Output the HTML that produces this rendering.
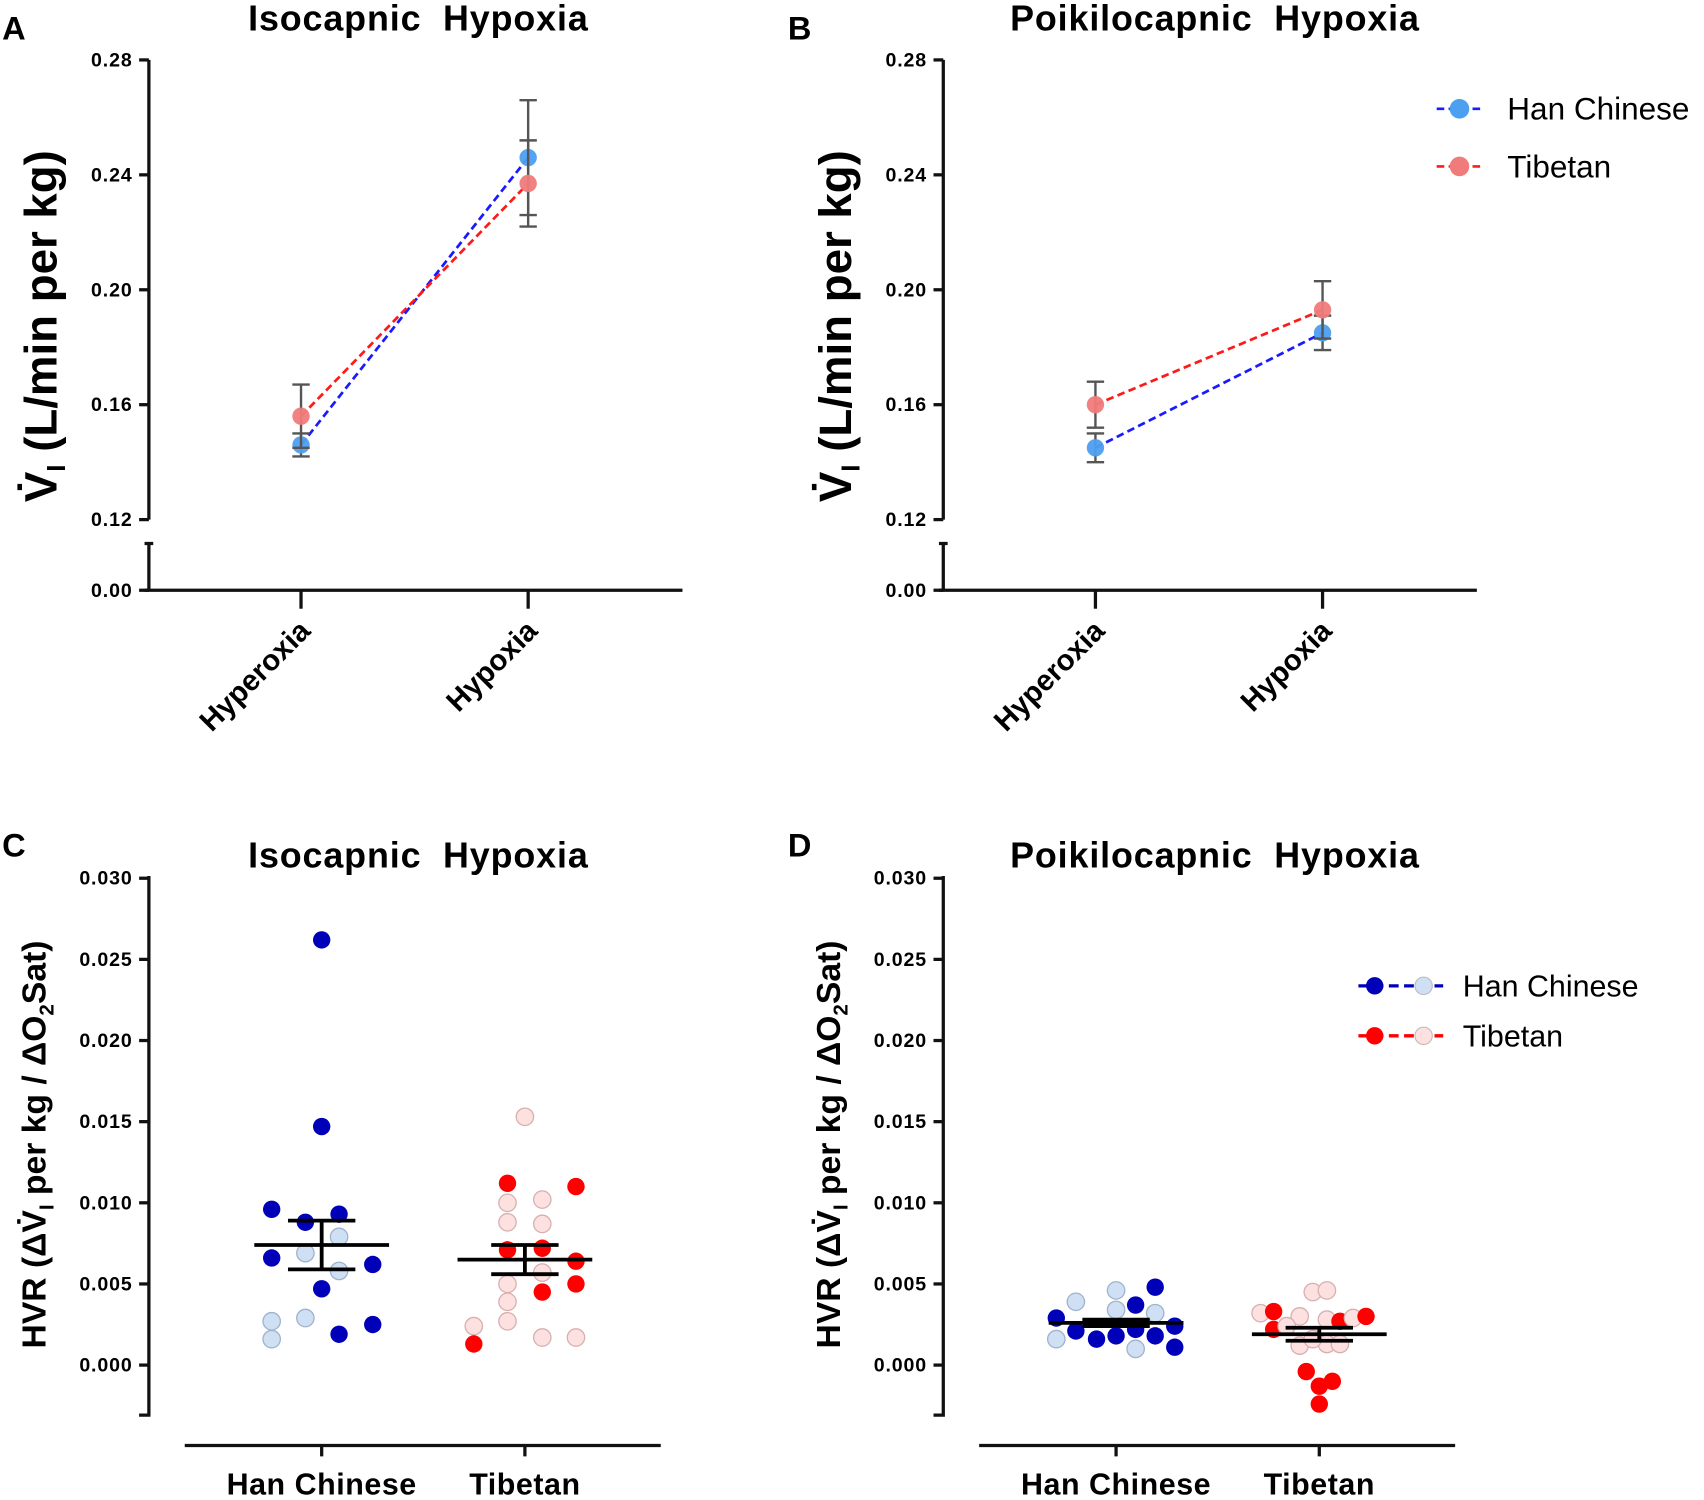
<!DOCTYPE html>
<html><head><meta charset="utf-8"><style>
html,body{margin:0;padding:0;background:#fff}
svg{display:block;font-family:"Liberation Sans",Arial,sans-serif}
</style></head><body>
<svg id="fig" width="1704" height="1500" viewBox="0 0 1568 1380" xmlns="http://www.w3.org/2000/svg">
<g font-weight="bold" font-size="30">
<text x="2" y="36">A</text>
<text x="725" y="36">B</text>
<text x="2" y="788">C</text>
<text x="725" y="788">D</text>
</g>
<g font-weight="bold" font-size="33" text-anchor="middle" letter-spacing="0.8">
<text x="385" y="28">Isocapnic&#160;&#160;Hypoxia</text>
<text x="1118" y="28">Poikilocapnic&#160;&#160;Hypoxia</text>
<text x="385" y="798">Isocapnic&#160;&#160;Hypoxia</text>
<text x="1118" y="798">Poikilocapnic&#160;&#160;Hypoxia</text>
</g>
<g id="layer"></g>
</svg>
<script>
// ---- Data: panels A/B (means and SEM) ----
const conditions = ["Hyperoxia", "Hypoxia"];
const topTicks = [0.12, 0.16, 0.20, 0.24, 0.28];
const isoHanMean = [0.146, 0.246];
const isoHanSem = [0.004, 0.020];
const isoTibMean = [0.156, 0.237];
const isoTibSem = [0.011, 0.015];
const poiHanMean = [0.145, 0.185];
const poiHanSem = [0.005, 0.006];
const poiTibMean = [0.160, 0.193];
const poiTibSem = [0.008, 0.010];
// ---- Data: panels C/D (individual HVR values) ----
const groups = ["Han Chinese", "Tibetan"];
const hvrTicks = [0.000, 0.005, 0.010, 0.015, 0.020, 0.025, 0.030];
const hvrTickLabels = ["0.000", "0.005", "0.010", "0.015", "0.020", "0.025", "0.030"];
const isoHanVals = [0.0262, 0.0147, 0.0096, 0.0088, 0.0093, 0.0079, 0.0069, 0.0066, 0.0062, 0.0058, 0.0047, 0.0027, 0.0029, 0.0019, 0.0025, 0.0016];
const isoHanDark = [1, 1, 1, 1, 1, 0, 0, 1, 1, 0, 1, 0, 0, 1, 1, 0];
const isoHanJit = [0, 0, -46, -15, 16, 16, -15, -46, 47, 16, 0, -46, -15, 16, 47, -46];
const isoTibVals = [0.0153, 0.0112, 0.0110, 0.0100, 0.0102, 0.0088, 0.0087, 0.0071, 0.0072, 0.0064, 0.0057, 0.0050, 0.0050, 0.0045, 0.0039, 0.0027, 0.0024, 0.0013, 0.0017, 0.0017];
const isoTibDark = [0, 1, 1, 0, 0, 0, 0, 1, 1, 1, 0, 0, 1, 1, 0, 0, 0, 1, 0, 0];
const isoTibJit = [0, -16, 47, -16, 16, -16, 16, -16, 16, 47, 16, -16, 47, 16, -16, -16, -47, -47, 16, 47];
const isoStats = {hanMean: 0.0074, hanSem: 0.0015, tibMean: 0.0065, tibSem: 0.0009};
const poiHanVals = [0.0029, 0.0039, 0.0046, 0.0034, 0.0037, 0.0048, 0.0032, 0.0024, 0.0021, 0.0016, 0.0018, 0.0022, 0.0018, 0.0016, 0.0010, 0.0011];
const poiHanDark = [1, 0, 0, 0, 1, 1, 0, 1, 1, 1, 1, 1, 1, 0, 0, 1];
const poiHanJit = [-55, -37, 0, 0, 18, 36, 36, 54, -37, -18, 0, 18, 36, -55, 18, 54];
const poiTibVals = [0.0045, 0.0046, 0.0032, 0.0033, 0.0022, 0.0030, 0.0028, 0.0027, 0.0029, 0.0030, 0.0024, 0.0012, 0.0013, 0.0013, 0.0016, -0.0004, -0.0013, -0.0010, -0.0024];
const poiTibDark = [0, 0, 0, 1, 1, 0, 0, 1, 0, 1, 0, 0, 0, 0, 0, 1, 1, 1, 1];
const poiTibJit = [-6, 7, -54, -42, -42, -18, 7, 19, 31, 43, -30, -18, 7, 19, -6, -12, 0, 12, 0];
const poiStats = {hanMean: 0.0026, hanSem: 0.0002, tibMean: 0.0019, tibSem: 0.0004};

const NS = "http://www.w3.org/2000/svg";
const layer = document.getElementById("layer");
function mk(tag, attrs, parent) {
  const e = document.createElementNS(NS, tag);
  for (const k in attrs) e.setAttribute(k, attrs[k]);
  (parent || layer).appendChild(e);
  return e;
}
function txt(x, y, s, attrs, parent) {
  const e = mk("text", Object.assign({x: x, y: y}, attrs), parent);
  e.textContent = s;
  return e;
}
const TICKFONT = {"text-anchor": "end", "font-size": 18, "font-weight": "bold", "letter-spacing": "0.8"};

// ---------- Panels A/B ----------
function linePanel(ox, han, hanS, tib, tibS, tag) {
  const ax = ox + 137;
  const yTop = v => 478 - (v - 0.12) / 0.16 * 423;
  const xCat = i => ox + 277 + i * 209;
  const g = mk("g", {});
  
  
  const ya = mk("path", {d: `M${ax} 55 V478 M${ax} 500 V543 M${ax-4} 500 H${ax+4}`, stroke: "#111", "stroke-width": 3, fill: "none"}, g);
  
  
  const xa = mk("path", {d: `M${ax-4} 543 H${ox+628}`, stroke: "#111", "stroke-width": 3}, g);
  
  
  topTicks.forEach(t => {
    const y = yTop(t);
    mk("line", {x1: ax - 9, x2: ax, y1: y, y2: y, stroke: "#111", "stroke-width": 3}, g);
    const l = txt(ax - 15, y + 6, t.toFixed(2), TICKFONT, g);
    
    
  });
  mk("line", {x1: ax - 9, x2: ax, y1: 543, y2: 543, stroke: "#111", "stroke-width": 3}, g);
  const z = txt(ax - 15, 549, "0.00", TICKFONT, g);
  
  
  conditions.forEach((c, i) => {
    const x = xCat(i);
    mk("line", {x1: x, x2: x, y1: 543, y2: 560, stroke: "#111", "stroke-width": 3}, g);
    const l = txt(0, 0, c, {"text-anchor": "end", "font-size": 27, "font-weight": "bold", transform: `translate(${x + 10},${582}) rotate(-45)`}, g);
    
    
  });
  const yt = txt(0, 0, "", {"text-anchor": "middle", "font-size": 42, "font-weight": "bold", transform: `translate(${ox + 52},${300}) rotate(-90)`}, g);
  
  
  yt.innerHTML = 'V\u0307<tspan font-size="24" dy="8">I</tspan><tspan dy="-8"> (L/min per kg)</tspan>';
  [[han, hanS, "#1a1aff", "#4d9ff0", "han"], [tib, tibS, "#ff1a1a", "#f07b7b", "tibetan"]].forEach(([m, s, lc, fc, nm]) => {
    const sg = mk("g", {}, g);
    
    
    const ln = mk("line", {x1: xCat(0), y1: yTop(m[0]), x2: xCat(1), y2: yTop(m[1]), stroke: lc, "stroke-width": 2.5, "stroke-dasharray": "7 4"}, sg);
    
    
    m.forEach((v, i) => {
      const x = xCat(i), y1 = yTop(v + s[i]), y2 = yTop(v - s[i]);
      const eb = mk("path", {d: `M${x} ${y1} V${y2} M${x-8} ${y1} H${x+8} M${x-8} ${y2} H${x+8}`, stroke: "#555", "stroke-width": 2.2, fill: "none"}, sg);
      
      
      const p = mk("circle", {cx: x, cy: yTop(v), r: 8, fill: fc, "fill-opacity": 0.95}, sg);
      
      
    });
  });
}
linePanel(0, isoHanMean, isoHanSem, isoTibMean, isoTibSem, "a");
linePanel(731, poiHanMean, poiHanSem, poiTibMean, poiTibSem, "b");

[["Han Chinese", "#1a1aff", "#4d9ff0", 100], ["Tibetan", "#ff1a1a", "#f07b7b", 153]].forEach(([n, lc, fc, y]) => {
  const g = mk("g", {});
  
  
  mk("line", {x1: 1322, x2: 1364, y1: y, y2: y, stroke: lc, "stroke-width": 2.5, "stroke-dasharray": "7 4"}, g);
  mk("circle", {cx: 1343, cy: y, r: 9, fill: fc}, g);
  txt(1387, y + 10, n, {"font-size": 29}, g);
});

// ---------- Panels C/D ----------
function dotPanel(ox, hv, hd, hj, tv, td, tj, st, tag) {
  const ax = ox + 137;
  const yH = v => 1256 - v / 0.030 * 448;
  const xCat = i => ox + 296 + i * 187;
  const g = mk("g", {});
  
  
  const ya = mk("path", {d: `M${ax} 806 V1302 H${ax-9}`, stroke: "#111", "stroke-width": 3, fill: "none"}, g);
  
  
  const xa = mk("line", {x1: ox + 170, x2: ox + 608, y1: 1330, y2: 1330, stroke: "#111", "stroke-width": 3}, g);
  
  
  hvrTicks.forEach((t, i) => {
    const y = yH(t);
    mk("line", {x1: ax - 9, x2: ax, y1: y, y2: y, stroke: "#111", "stroke-width": 3}, g);
    const l = txt(ax - 15, y + 6, hvrTickLabels[i], TICKFONT, g);
    
    
  });
  groups.forEach((gname, i) => {
    const x = xCat(i);
    mk("line", {x1: x, x2: x, y1: 1330, y2: 1340, stroke: "#111", "stroke-width": 3}, g);
    const l = txt(x, 1375, gname, {"text-anchor": "middle", "font-size": 28, "font-weight": "bold", "letter-spacing": "0.5"}, g);
    
    
  });
  const yt = txt(0, 0, "", {"text-anchor": "middle", "font-size": 31, "font-weight": "bold", transform: `translate(${ox + 42},${1053}) rotate(-90)`}, g);
  
  
  yt.innerHTML = 'HVR (ΔV\u0307<tspan font-size="19" dy="7">I</tspan><tspan dy="-7"> per kg / ΔO</tspan><tspan font-size="19" dy="7">2</tspan><tspan dy="-7">Sat)</tspan>';
  const sets = [[hv, hd, hj, 0, "#0000b8", "#cfe0f5", "#9fb4cc", "han"], [tv, td, tj, 1, "#ff0000", "#fde0e0", "#d8b0b0", "tibetan"]];
  sets.forEach(([vals, dark, jit, ci, dc, lc, ls, nm]) => {
    const sg = mk("g", {}, g);
    
    
    vals.forEach((v, k) => {
      const p = mk("circle", {cx: xCat(ci) + jit[k], cy: yH(v), r: 8, fill: dark[k] ? dc : lc, stroke: dark[k] ? "none" : ls, "stroke-width": 1.2}, sg);
      
      
    });
  });
  [[st.hanMean, st.hanSem, 0], [st.tibMean, st.tibSem, 1]].forEach(([m, s, ci]) => {
    const x = xCat(ci), ym = yH(m), y1 = yH(m + s), y2 = yH(m - s);
    const sg = mk("path", {d: `M${x-62} ${ym} H${x+62} M${x} ${y1} V${y2} M${x-31} ${y1} H${x+31} M${x-31} ${y2} H${x+31}`, stroke: "#000", "stroke-width": 3.5, fill: "none"}, g);
    
    
  });
}
dotPanel(0, isoHanVals, isoHanDark, isoHanJit, isoTibVals, isoTibDark, isoTibJit, isoStats, "c");
dotPanel(731, poiHanVals, poiHanDark, poiHanJit, poiTibVals, poiTibDark, poiTibJit, poiStats, "d");

[["Han Chinese", "#0000b8", "#cfe0f5", 907], ["Tibetan", "#ff0000", "#fde0e0", 953]].forEach(([n, dc, lc, y]) => {
  const g = mk("g", {});
  
  
  mk("line", {x1: 1250, x2: 1328, y1: y, y2: y, stroke: dc, "stroke-width": 3, "stroke-dasharray": "9 5"}, g);
  mk("circle", {cx: 1265, cy: y, r: 8, fill: dc}, g);
  mk("circle", {cx: 1310, cy: y, r: 8, fill: lc, stroke: "#bbb", "stroke-width": 1}, g);
  txt(1346, y + 10, n, {"font-size": 28}, g);
});
</script>
</body></html>
